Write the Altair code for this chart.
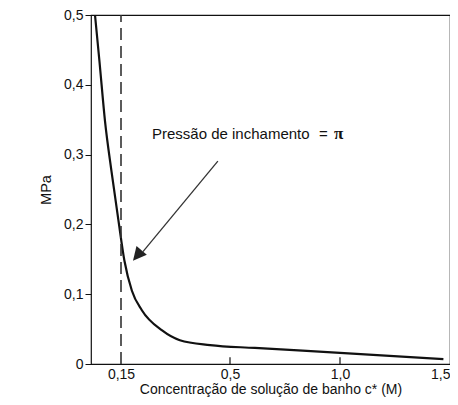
import altair as alt
import pandas as pd

# Curve: bath concentration c* (M) vs swelling pressure (MPa)
conc = [0.02, 0.0425, 0.07, 0.1025, 0.1375, 0.161, 0.185, 0.217, 0.282, 0.339, 0.436, 0.613, 1.0, 1.47]
mpa = [0.5, 0.433, 0.348, 0.276, 0.205, 0.148, 0.105, 0.077, 0.048, 0.034, 0.027, 0.023, 0.016, 0.007]

x_tick_values = [0.15, 0.5, 1.0, 1.5]
y_tick_values = [0, 0.1, 0.2, 0.3, 0.4, 0.5]
inner_x_ticks = [0.5, 1.0]
inner_tick_len = [0.0, 0.0095]
marker_c = 0.15

annot_text = "Pressão de inchamento"
annot_pos = [0.2495, 0.323]
eq_pos = [0.905, 0.323]
pi_pos = [0.973, 0.323]
arrow_start = [0.461, 0.2906]
arrow_base = [0.2206, 0.161]
arrow_tip = [0.1885, 0.148]

FONT = "Liberation Sans"

xs = alt.Scale(domain=[0, 0.15, 0.5, 1.5], range=[0, 30, 139, 359], nice=False, zero=False)
ys = alt.Scale(domain=[0, 0.5], nice=False, zero=False)

x_axis = alt.Axis(
    values=x_tick_values, ticks=False, domain=False, grid=False,
    labelExpr="datum.value == 0.15 ? '0,15' : replace(format(datum.value, '.1f'), '.', ',')",
    labelFont=FONT, labelFontSize=14, labelColor="#111", labelPadding=3,
    labelFlush=True, labelFlushOffset=0,
    titleFont=FONT, titleFontSize=14, titleFontWeight="normal", titleColor="#111", titlePadding=1,
    labelOverlap=False,
)
y_axis = alt.Axis(
    values=y_tick_values, ticks=True, tickSize=6, tickColor="#111", domain=False, grid=False,
    labelExpr="datum.value == 0 ? '0' : replace(format(datum.value, '.1f'), '.', ',')",
    labelFont=FONT, labelFontSize=14, labelColor="#111", labelPadding=2,
    titleFont=FONT, titleFontSize=14.5, titleFontWeight="normal", titleColor="#111", titlePadding=10,
    labelOverlap=False, labelFlush=False,
)

df = pd.DataFrame({"c": conc, "p": mpa})

curve = alt.Chart(df).mark_line(color="#111", strokeWidth=2.2, interpolate="monotone").encode(
    x=alt.X("c:Q", scale=xs, axis=x_axis, title="Concentração de solução de banho c* (M)"),
    y=alt.Y("p:Q", scale=ys, axis=y_axis, title="MPa"),
)

dash_df = pd.DataFrame({"c": [marker_c], "p": [y_tick_values[0]], "p2": [y_tick_values[-1]]})
dashed = alt.Chart(dash_df).mark_rule(color="#333", strokeWidth=1.6, strokeDash=[12, 6]).encode(
    x=alt.X("c:Q", scale=xs), y=alt.Y("p:Q", scale=ys), y2="p2:Q"
)

tick_df = pd.DataFrame({"c": inner_x_ticks, "p": [inner_tick_len[0]] * len(inner_x_ticks),
                        "p2": [inner_tick_len[1]] * len(inner_x_ticks)})
inner_ticks = alt.Chart(tick_df).mark_rule(color="#111", strokeWidth=1.2).encode(
    x=alt.X("c:Q", scale=xs), y=alt.Y("p:Q", scale=ys), y2="p2:Q"
)

arrow_df = pd.DataFrame({"c": [arrow_start[0], arrow_base[0]], "p": [arrow_start[1], arrow_base[1]]})
arrow_line = alt.Chart(arrow_df).mark_line(color="#333", strokeWidth=1.3).encode(
    x=alt.X("c:Q", scale=xs), y=alt.Y("p:Q", scale=ys)
)

head_df = pd.DataFrame({"c": [arrow_tip[0]], "p": [arrow_tip[1]]})
arrow_head = alt.Chart(head_df).mark_point(
    shape="M0,0L0.5,1L-0.5,1Z", size=729, angle=220, filled=True, color="#222", opacity=1
).encode(x=alt.X("c:Q", scale=xs), y=alt.Y("p:Q", scale=ys))

txt_df = pd.DataFrame({"c": [annot_pos[0]], "p": [annot_pos[1]], "t": [annot_text]})
annot = alt.Chart(txt_df).mark_text(
    align="left", baseline="alphabetic", font=FONT, fontSize=15, color="#111"
).encode(x=alt.X("c:Q", scale=xs), y=alt.Y("p:Q", scale=ys), text="t:N")

eq_df = pd.DataFrame({"c": [eq_pos[0]], "p": [eq_pos[1]], "t": ["="]})
eq = alt.Chart(eq_df).mark_text(
    align="left", baseline="alphabetic", font=FONT, fontSize=15, color="#111"
).encode(x=alt.X("c:Q", scale=xs), y=alt.Y("p:Q", scale=ys), text="t:N")

pi_df = pd.DataFrame({"c": [pi_pos[0]], "p": [pi_pos[1]], "t": ["π"]})
pi = alt.Chart(pi_df).mark_text(
    align="left", baseline="alphabetic", font="Liberation Serif", fontSize=17, fontWeight="bold", color="#111"
).encode(x=alt.X("c:Q", scale=xs), y=alt.Y("p:Q", scale=ys), text="t:N")

chart = alt.layer(curve, dashed, inner_ticks, arrow_line, arrow_head, annot, eq, pi).properties(
    width=359, height=349,
    autosize=alt.AutoSizeParams(type="none"),
    padding={"left": 83, "top": 7, "right": 0, "bottom": 33},
    background="white",
).configure_view(stroke="#111", strokeWidth=1.2)

chart.save("out.html", embed_options={"renderer": "svg", "actions": False})
